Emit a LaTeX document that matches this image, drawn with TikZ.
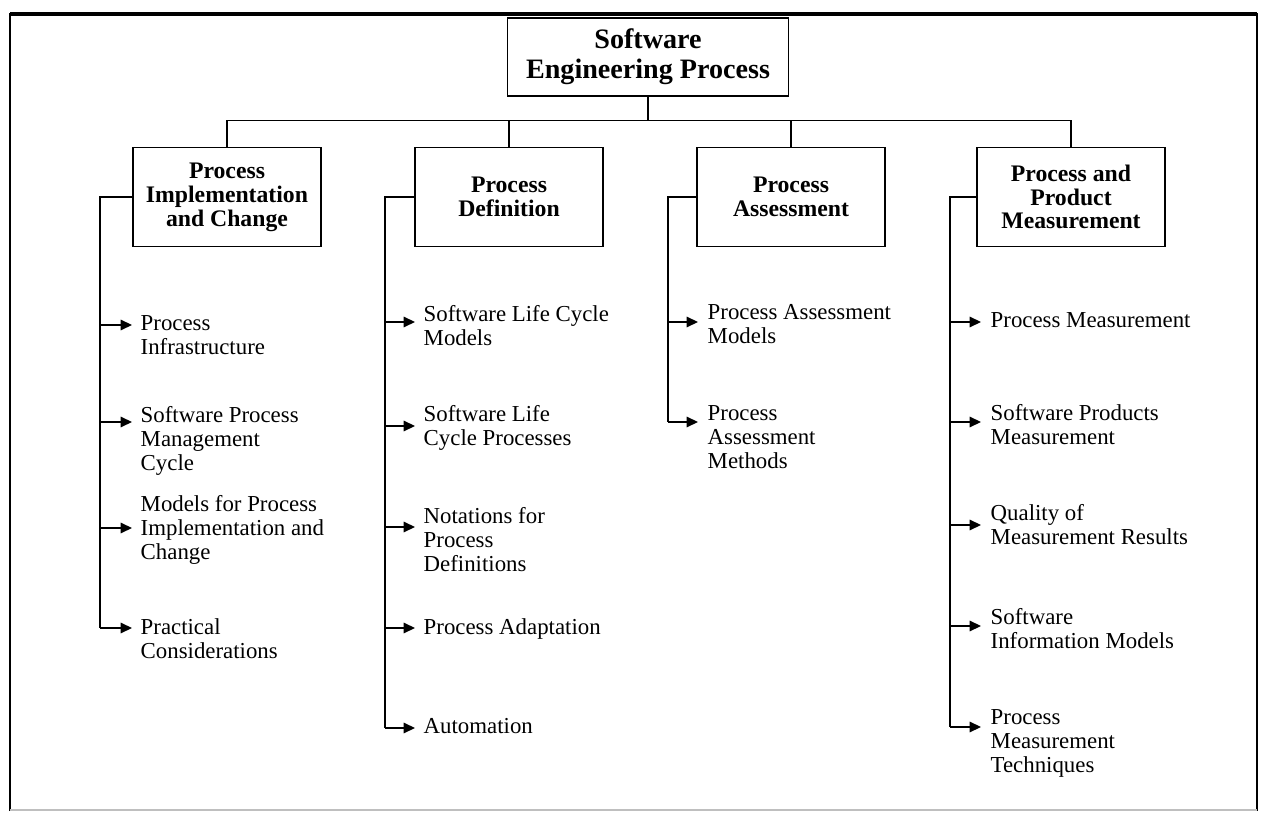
\documentclass[tikz,border=0pt]{standalone}
\usepackage{fontspec}
\setmainfont{Liberation Serif}
\usetikzlibrary{arrows.meta}

\begin{document}
\begin{tikzpicture}[x=0.02cm, y=-0.02cm, line width=0.8pt,
  box/.style={draw, align=center, inner sep=2pt, minimum width=3.76cm, minimum height=1.98cm, font=\bfseries\fontsize{13.5}{13.6}\selectfont},
  leaf/.style={anchor=north west, align=left, inner sep=0pt, font=\fontsize{13}{13.6}\selectfont},
  arr/.style={-{Triangle[length=6.5pt,width=6pt]}}]
  \useasboundingbox (0,0) rectangle (1266,813);
  % frame
  \draw[line width=1pt] (10,811) -- (10,14) -- (1257,14) -- (1257,811);
  \draw[line width=1.8pt] (10,14) -- (1257,14);
  \draw[gray!50] (10,810) -- (1257,810);

  % top and first level
  \node[box, minimum width=5.62cm, minimum height=1.56cm, font=\bfseries\fontsize{16}{17}\selectfont] (sep) at (648,57) {Software\\Engineering Process};
  \node[box] (pic) at (227,197) {Process\\Implementation\\and Change};
  \node[box] (pd) at (509,197) {Process\\Definition};
  \node[box] (pa) at (791,197) {Process\\Assessment};
  \node[box] (ppm) at (1071,197) {Process and\\Product\\Measurement};
  \draw (sep.south) -- ++(0,24) coordinate (bus);
  \draw (pic.north) |- (bus) -| (ppm.north);
  \draw (pd.north) -- (pd.north |- bus); \draw (pa.north) -- (pa.north |- bus);

  % spines
  \coordinate (picS) at (pic.west -| 100,0);
  \coordinate (pdS) at (pd.west -| 385,0);
  \coordinate (paS) at (pa.west -| 668,0);
  \coordinate (ppmS) at (ppm.west -| 950,0);

  \foreach \n/\ay/\ty/\txt in {pi1/325/325/{Process\\Infrastructure}, pi2/422/416/{Software Process\\Management\\Cycle},
      pi3/528/505/{Models for Process\\Implementation and\\Change}, pi4/628/628/{Practical\\Considerations}} {
    \node[leaf] (\n) at (140,\ty-10) {\txt};
    \coordinate (\n tip) at (132,\ay);
    \draw[arr] (\n tip -| picS) -- (\n tip);
  }
  \foreach \n/\ay/\ty/\txt in {pd1/322/315/{Software Life Cycle\\Models}, pd2/426/415/{Software Life\\Cycle Processes},
      pd3/527/517/{Notations for\\Process\\Definitions}, pd4/628/628/{Process Adaptation}, pd5/728/728/{Automation}} {
    \node[leaf] (\n) at (423,\ty-10) {\txt};
    \coordinate (\n tip) at (415,\ay);
    \draw[arr] (\n tip -| pdS) -- (\n tip);
  }
  \foreach \n/\ay/\ty/\txt in {pa1/322/314/{Process Assessment\\Models}, pa2/422/415/{Process\\Assessment\\Methods}} {
    \node[leaf] (\n) at (707,\ty-10) {\txt};
    \coordinate (\n tip) at (698,\ay);
    \draw[arr] (\n tip -| paS) -- (\n tip);
  }
  \foreach \n/\ay/\ty/\txt in {pm1/322/322/{Process Measurement}, pm2/422/414/{Software Products\\Measurement},
      pm3/525/514/{Quality of\\Measurement Results}, pm4/626/618/{Software\\Information Models},
      pm5/727/719/{Process\\Measurement\\Techniques}} {
    \node[leaf] (\n) at (990,\ty-10) {\txt};
    \coordinate (\n tip) at (981,\ay);
    \draw[arr] (\n tip -| ppmS) -- (\n tip);
  }

  \draw (pic.west) -- (picS) -- (picS |- pi4tip);
  \draw (pd.west) -- (pdS) -- (pdS |- pd5tip);
  \draw (pa.west) -- (paS) -- (paS |- pa2tip);
  \draw (ppm.west) -- (ppmS) -- (ppmS |- pm5tip);
\end{tikzpicture}
\end{document}
